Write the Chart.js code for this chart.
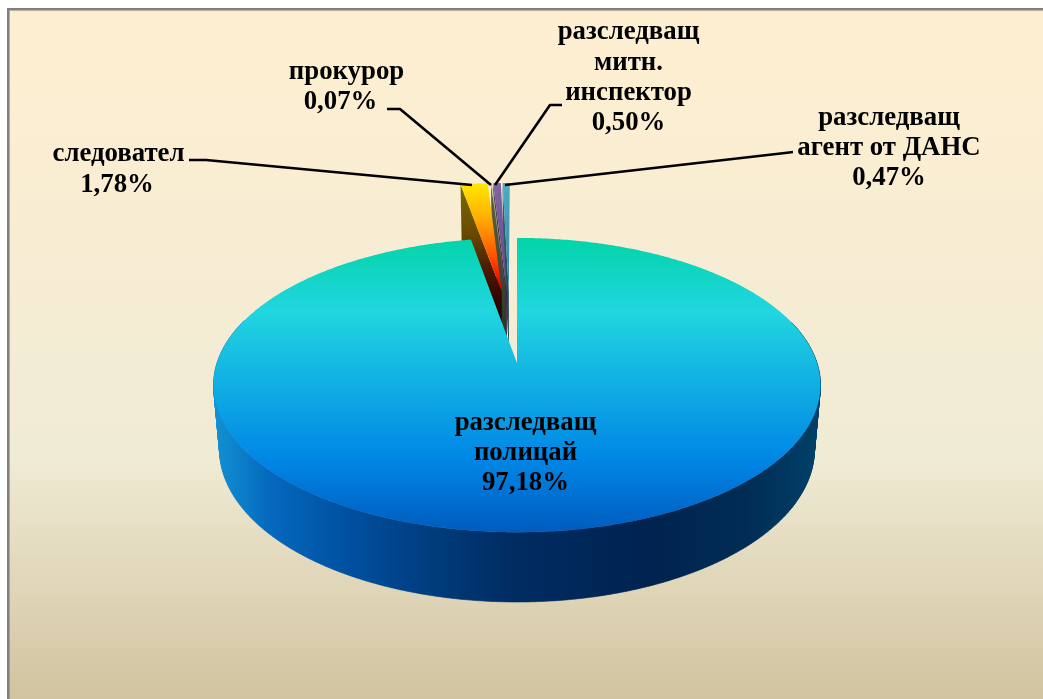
<!DOCTYPE html>
<html>
<head>
<meta charset="utf-8">
<title>Разследващи органи</title>
<script src="https://cdn.jsdelivr.net/npm/chart.js@4/dist/chart.umd.min.js"></script>
<style>
html,body{margin:0;padding:0;background:#fff;overflow:hidden}
canvas{display:block}
</style>
</head>
<body>
<canvas id="c" width="1043" height="699"></canvas>
<script>
const categories = ['разследващ полицай','следовател','прокурор','разследващ митн. инспектор','разследващ агент от ДАНС'];
const shares = [97.18, 1.78, 0.07, 0.50, 0.47];
const labelLines = [
  ['разследващ','полицай'],
  ['следовател'],
  ['прокурор'],
  ['разследващ','митн.','инспектор'],
  ['разследващ','агент от ДАНС']
];
const sliceColors = ['#0087E6','#FFC000','#B7C48A','#8064A2','#4BACC6'];
const sliceOffsets = [0, 54, 54, 54, 54];

// layout of the perspective drawing
const persp = {cx:517, k:300, kBottom:294, c:-0.15, a:89.4, b:363, aBottom:84.9, bBottom:426.8};
const labelBoxes = [
  {x:525.5, y:[423,453,483]},
  {x:118.5, y:[154,185], xs:[118.5,117]},
  {x:346.5, y:[72,102], xs:[346.5,340.5]},
  {x:628.5, y:[32,63,93,123]},
  {x:889, y:[118,148,178]}
];
const leaders = [
  null,
  [[189,160],[206,160],[472,185]],
  [[387,109],[400,109],[491,185]],
  [[562,105],[550,105],[495,185]],
  [[793,152],[785,153],[505,185]]
];

function project(u, v, bottom){
  const d = 1 + persp.c * v;
  const k = bottom ? persp.kBottom : persp.k;
  const a = bottom ? persp.aBottom : persp.a;
  const b = bottom ? persp.bBottom : persp.b;
  return [persp.cx + k * u / d, (b + a * v) / d];
}
function gradient(ctx, x0, y0, x1, y1, stops){
  const g = ctx.createLinearGradient(x0, y0, x1, y1);
  stops.forEach(s => g.addColorStop(s[0], s[1]));
  return g;
}
function poly(ctx, pts){
  ctx.beginPath();
  pts.forEach((p, i) => i ? ctx.lineTo(p[0], p[1]) : ctx.moveTo(p[0], p[1]));
  ctx.closePath();
}

const pie3d = {
  id: 'pie3d',
  beforeDraw(chart){
    const ctx = chart.ctx, W = chart.width, H = chart.height;
    ctx.save();
    ctx.fillStyle = '#fff';
    ctx.fillRect(0, 0, W, H);
    ctx.fillStyle = gradient(ctx, 0, 10, 0, H, [[0,'#FFEFD1'],[0.65,'#F0EBD5'],[1,'#D1C39F']]);
    ctx.fillRect(9, 10, W, H);
    ctx.fillStyle = '#808080';
    ctx.fillRect(7, 8, W, 2.5);
    ctx.fillRect(7, 8, 2.6, H);
    ctx.fillStyle = '#b9b2a2';
    ctx.fillRect(9.6, 10.5, W, 0.6);
    ctx.restore();
  },
  beforeDatasetsDraw(chart){
    const ctx = chart.ctx;
    const arcs = chart.getDatasetMeta(0).data;
    const geo = arcs.map((el) => {
      const t0 = el.startAngle + Math.PI / 2, t1 = el.endAngle + Math.PI / 2;
      const off = (el.options.offset || 0) / 100;
      let mid = (t0 + t1) / 2;
      const du = off ? -0.026 + 0.24 * Math.sin(mid) : 0;
      const dv = -off;
      const n = Math.max(2, Math.ceil((t1 - t0) / 0.01));
      const rim = [];
      for (let i = 0; i <= n; i++) {
        const t = t0 + (t1 - t0) * i / n;
        rim.push([Math.sin(t) + du, -Math.cos(t) + dv]);
      }
      return {rim, apex:[du, dv], off};
    });

    const fire = [[0,'#FFE600'],[0.2,'#FFB000'],[0.45,'#FF5000'],[0.62,'#F00000'],[0.8,'#700000'],[1,'#300000']];
    const fireWall = [[0,'#7A6C00'],[0.3,'#6A4A00'],[0.55,'#4A1500'],[0.8,'#240000'],[1,'#100000']];
    const faces = [
      null,
      {top:fire, wall:fireWall},
      {top:[[0,'#C4CFA0'],[1,'#5A6A3A']], wall:[[0,'#5c6348'],[1,'#2a3020']]},
      {top:[[0,'#8064A2'],[1,'#4E3A68']], wall:[[0,'#4a3a60'],[1,'#2a2038']]},
      {top:[[0,'#4BACC6'],[1,'#2C6A80']], wall:[[0,'#2c6a80'],[1,'#1a3c48']]}
    ];

    // exploded slices: cut faces first (right to left), then their tops
    for (let i = geo.length - 1; i >= 1; i--) {
      const g = geo[i], first = g.rim[0];
      poly(ctx, [project(first[0], first[1]), project(first[0], first[1], true),
                 project(g.apex[0], g.apex[1], true), project(g.apex[0], g.apex[1])]);
      ctx.fillStyle = gradient(ctx, 0, 185, 0, 345, faces[i].wall);
      ctx.fill();
    }
    for (let i = 1; i < geo.length; i++) {
      const g = geo[i];
      poly(ctx, [project(g.apex[0], g.apex[1])].concat(g.rim.map(p => project(p[0], p[1]))));
      ctx.fillStyle = gradient(ctx, 0, 185, 0, 345, faces[i].top);
      ctx.fill();
    }

    // main slice: rim wall, then top
    const m = geo[0];
    ctx.fillStyle = gradient(ctx, 214, 0, 821, 0, [
      [0,'#1292D2'],[0.09,'#0569BE'],[0.22,'#0050A0'],[0.36,'#003C7D'],[0.48,'#002D64'],
      [0.6,'#00285A'],[0.72,'#002350'],[0.88,'#002D55'],[1,'#004169']]);
    ctx.beginPath();
    for (let i = 0; i < m.rim.length - 1; i++) {
      const a = m.rim[i], b = m.rim[i + 1];
      if (a[1] < -0.3) continue;
      const p = [project(a[0],a[1]), project(b[0],b[1]), project(b[0],b[1],true), project(a[0],a[1],true)];
      ctx.moveTo(p[0][0], p[0][1]);
      for (let j = 1; j < 4; j++) ctx.lineTo(p[j][0], p[j][1]);
      ctx.closePath();
    }
    ctx.lineWidth = 0.6;
    ctx.strokeStyle = ctx.fillStyle;
    ctx.fill();
    ctx.stroke();

    poly(ctx, [project(m.apex[0], m.apex[1])].concat(m.rim.map(p => project(p[0], p[1]))));
    ctx.fillStyle = gradient(ctx, 0, 238, 0, 532, [[0,'#03D4A8'],[0.25,'#21D6E0'],[0.75,'#0087E6'],[1,'#005CBF']]);
    ctx.fill();

    // leader lines
    ctx.strokeStyle = '#000';
    ctx.lineWidth = 2.6;
    ctx.lineJoin = 'round';
    leaders.forEach(l => {
      if (!l) return;
      ctx.beginPath();
      l.forEach((p, i) => i ? ctx.lineTo(p[0], p[1]) : ctx.moveTo(p[0], p[1]));
      ctx.stroke();
    });

    // data labels
    ctx.fillStyle = '#000';
    ctx.font = 'bold 26.8px "Liberation Serif"';
    ctx.textAlign = 'center';
    ctx.textBaseline = 'middle';
    chart.data.datasets[0].data.forEach((v, i) => {
      const box = labelBoxes[i];
      const lines = labelLines[i].concat([v.toFixed(2).replace('.', ',') + '%']);
      lines.forEach((t, j) => ctx.fillText(t, box.xs ? box.xs[j] : box.x, box.y[j]));
    });
    return false;
  }
};

new Chart(document.getElementById('c'), {
  type: 'pie',
  data: {
    labels: categories,
    datasets: [{data: shares, backgroundColor: sliceColors, offset: sliceOffsets, borderWidth: 0}]
  },
  options: {
    responsive: false,
    animation: false,
    events: [],
    plugins: {legend: {display: false}, tooltip: {enabled: false}, title: {display: false}}
  },
  plugins: [pie3d]
});
</script>
</body>
</html>
